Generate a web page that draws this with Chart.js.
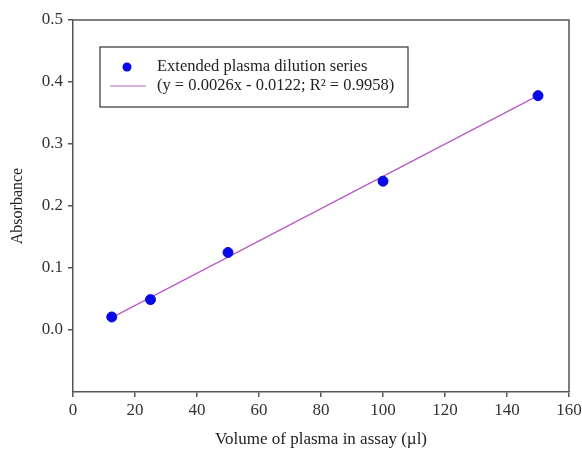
<!DOCTYPE html>
<html>
<head>
<meta charset="utf-8">
<script src="https://cdn.jsdelivr.net/npm/chart.js@4"></script>
<style>
  html, body { margin: 0; padding: 0; background: #fff; }
  #wrap { width: 582px; height: 459px; }
</style>
</head>
<body>
<div id="wrap"><canvas id="chart"></canvas></div>
<script>
// values
const volumes = [12.5, 25, 50, 100, 150];
const absorbance = [0.021, 0.049, 0.125, 0.240, 0.378];
const fitX = [12.5, 150];
const fitY = [0.020, 0.378];
const xTicks = [0, 20, 40, 60, 80, 100, 120, 140, 160];
const yTicks = [0.0, 0.1, 0.2, 0.3, 0.4, 0.5];
const seriesNames = ['Extended plasma dilution series', '(y = 0.0026x - 0.0122; R\u00b2 = 0.9958)'];

const serif = "'Liberation Serif', 'Times New Roman', serif";
const axisColor = '#555';

// frame + legend box inside plot
const boxLegend = {
    id: 'boxLegend',
    afterDraw(chart) {
        const c = chart.ctx, a = chart.chartArea;
        c.save();
        c.strokeStyle = axisColor;
        c.lineWidth = 1.5;
        c.beginPath();
        c.moveTo(a.left, a.top);
        c.lineTo(a.right, a.top);
        c.lineTo(a.right, a.bottom);
        c.stroke();

        const lx = a.left + 27, ly = a.top + 27, lw = 308, lh = 60;
        c.fillStyle = '#fff';
        c.fillRect(lx, ly, lw, lh);
        c.strokeStyle = '#333';
        c.lineWidth = 1.2;
        c.strokeRect(lx, ly, lw, lh);

        const ds = chart.data.datasets;
        c.font = '16.5px ' + serif;
        c.textBaseline = 'middle';
        c.fillStyle = ds[0].backgroundColor;
        c.beginPath();
        c.arc(lx + 27, ly + 20, 4.5, 0, Math.PI * 2);
        c.fill();
        c.strokeStyle = ds[1].borderColor;
        c.lineWidth = 1;
        c.beginPath();
        c.moveTo(lx + 10, ly + 39);
        c.lineTo(lx + 46, ly + 39);
        c.stroke();
        c.fillStyle = '#222';
        c.fillText(ds[0].label, lx + 57, ly + 20);
        c.fillText(ds[1].label, lx + 57, ly + 39);
        c.restore();
    }
};

new Chart(document.getElementById('chart'), {
    type: 'scatter',
    data: {
        datasets: [{
            label: seriesNames[0],
            data: volumes.map((v, i) => ({x: v, y: absorbance[i]})),
            backgroundColor: '#0808e6',
            borderColor: '#0808e6',
            pointRadius: 5,
            showLine: false,
            order: 0
        },
        {
            label: seriesNames[1],
            data: fitX.map((v, i) => ({x: v, y: fitY[i]})),
            borderColor: '#b85ac4',
            borderWidth: 1.2,
            pointRadius: 0,
            showLine: true,
            order: 1
        }]
    },
    options: {
        responsive: true,
        maintainAspectRatio: false,
        animation: false,
        layout: { padding: { top: 20, right: 0, left: 0, bottom: 0 } },
        plugins: {
            legend: { display: false },
            tooltip: { enabled: false }
        },
        scales: {
            x: {
                type: 'linear',
                min: 0, max: 160,
                afterBuildTicks: s => { s.ticks = xTicks.map(v => ({value: v})); },
                afterFit: s => { s.height = 67; s.paddingRight = 13; s.paddingLeft = 0; },
                border: { color: axisColor, width: 1.5 },
                grid: { drawOnChartArea: false, tickLength: 5, color: axisColor, lineWidth: 1.5 },
                ticks: { color: '#333', font: { family: serif, size: 17 }, padding: 3, maxRotation: 0 },
                title: { display: true, text: 'Volume of plasma in assay (\u00b5l)', color: '#222',
                         font: { family: serif, size: 17 }, padding: { top: 4, bottom: 9 } }
            },
            y: {
                min: -0.1, max: 0.5,
                afterBuildTicks: s => { s.ticks = yTicks.map(v => ({value: v})); },
                afterFit: s => { s.width = 73; },
                border: { color: axisColor, width: 1.5 },
                grid: { drawOnChartArea: false, tickLength: 5, color: axisColor, lineWidth: 1.5 },
                ticks: { color: '#333', font: { family: serif, size: 17 }, padding: 5,
                         callback: v => v.toFixed(1) },
                title: { display: true, text: 'Absorbance', color: '#222',
                         font: { family: serif, size: 16 }, padding: { top: 8, bottom: 4 } }
            }
        }
    },
    plugins: [boxLegend]
});
</script>
</body>
</html>
